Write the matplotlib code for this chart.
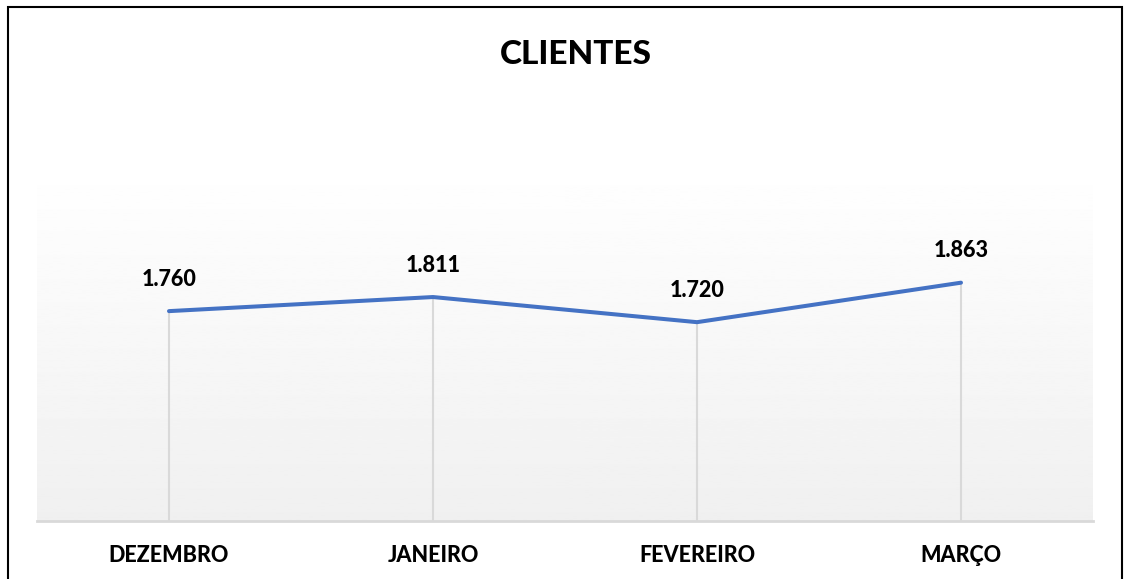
import numpy as np
import matplotlib.pyplot as plt
from matplotlib.patches import Rectangle

plt.rcParams['font.family'] = ['Lato', 'DejaVu Sans']

# dados
meses = ['DEZEMBRO', 'JANEIRO', 'FEVEREIRO', 'MARÇO']
clientes = [1760, 1811, 1720, 1863]
rotulos = ['1.760', '1.811', '1.720', '1.863']

fig = plt.figure(figsize=(11.25, 5.79), dpi=100)

# moldura preta em volta
fig.patches.append(Rectangle((8 / 1125, -0.02), 1114 / 1125, 1.02 - 7 / 579,
                             transform=fig.transFigure, fill=False,
                             edgecolor='black', linewidth=1.5))

ax = fig.add_axes([37 / 1125, 58 / 579, 1056 / 1125, 359 / 579])
x = np.arange(len(meses))
ax.set_xlim(-0.5, len(meses) - 0.5)
ax.set_ylim(1000, 2300)

# fundo em degrade (branco em cima, cinza claro embaixo)
grad = np.linspace(1.0, 0.94, 256).reshape(-1, 1)
ax.imshow(grad, cmap='gray', vmin=0, vmax=1, aspect='auto',
          extent=[-0.5, len(meses) - 0.5, 1000, 2300], origin='upper', zorder=0)

# linhas de queda
ax.vlines(x, 1000, clientes, color='#D9D9D9', linewidth=1.5, zorder=1)

ax.plot(x, clientes, color='#4472C4', linewidth=2.9, solid_capstyle='round', zorder=3)

for xi, yi, r in zip(x, clientes, rotulos):
    ax.annotate(r, (xi, yi), xytext=(0, 23), textcoords='offset points',
                ha='center', va='center', fontsize=15.5, fontweight='black')

for s in ['top', 'left', 'right']:
    ax.spines[s].set_visible(False)
ax.spines['bottom'].set_color('#D9D9D9')
ax.spines['bottom'].set_linewidth(2)
ax.set_yticks([])
ax.set_xticks(x)
ax.set_xticklabels(meses, fontsize=15.5, fontweight='black')
ax.tick_params(axis='x', length=0, pad=17)

fig.text(576 / 1125, 1 - 55 / 579, 'CLIENTES', ha='center', va='center',
         fontsize=24, fontweight='black')

fig.savefig('out.png', dpi=100, facecolor='white')
